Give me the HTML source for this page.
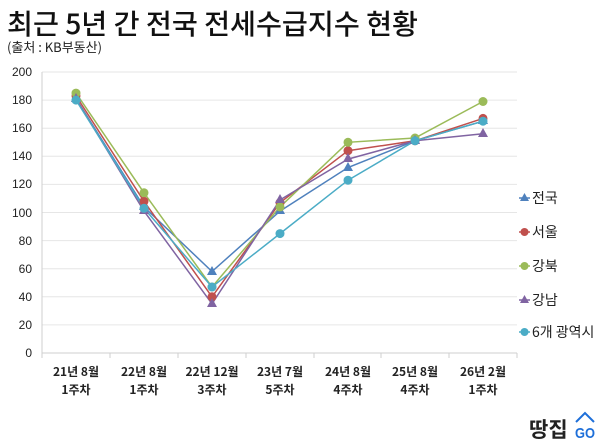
<!DOCTYPE html>
<html><head><meta charset="utf-8"><style>
html,body{margin:0;padding:0;background:#fff;}
svg{display:block;font-family:"Liberation Sans","Noto Sans CJK KR",sans-serif;}
</style></head><body>
<svg width="600" height="445" viewBox="0 0 600 445" xmlns="http://www.w3.org/2000/svg">
<rect width="600" height="445" fill="#fff"/>
<text x="7" y="34" font-size="28" font-weight="500" fill="#111" font-family="'Noto Sans CJK KR',sans-serif" textLength="411" lengthAdjust="spacingAndGlyphs">최근 5년 간 전국 전세수급지수 현황</text>
<text x="7" y="52" font-size="13" fill="#222" font-family="'Noto Sans CJK KR',sans-serif">(출처 : KB부동산)</text>
<g stroke="#e6e6e6" stroke-width="1">
<line x1="42" x2="517" y1="72" y2="72"/><line x1="42" x2="517" y1="100.1" y2="100.1"/><line x1="42" x2="517" y1="128.2" y2="128.2"/><line x1="42" x2="517" y1="156.3" y2="156.3"/><line x1="42" x2="517" y1="184.4" y2="184.4"/><line x1="42" x2="517" y1="212.5" y2="212.5"/><line x1="42" x2="517" y1="240.6" y2="240.6"/><line x1="42" x2="517" y1="268.7" y2="268.7"/><line x1="42" x2="517" y1="296.8" y2="296.8"/><line x1="42" x2="517" y1="324.9" y2="324.9"/>
</g>
<g stroke="#cfcfcf" stroke-width="1">
<line x1="42" x2="42" y1="72" y2="353"/><line x1="42" x2="517" y1="353" y2="353"/>
<line x1="42" x2="42" y1="353" y2="358"/><line x1="110" x2="110" y1="353" y2="358"/><line x1="178" x2="178" y1="353" y2="358"/><line x1="246" x2="246" y1="353" y2="358"/><line x1="314" x2="314" y1="353" y2="358"/><line x1="381" x2="381" y1="353" y2="358"/><line x1="449" x2="449" y1="353" y2="358"/><line x1="517" x2="517" y1="353" y2="358"/>
</g>
<g font-size="12" fill="#222" text-anchor="end">
<text x="32" y="76">200</text><text x="32" y="104">180</text><text x="32" y="132">160</text><text x="32" y="160">140</text><text x="32" y="188">120</text><text x="32" y="217">100</text><text x="32" y="245">80</text><text x="32" y="273">60</text><text x="32" y="301">40</text><text x="32" y="329">20</text><text x="32" y="357">0</text>
</g>
<g font-size="12" font-weight="bold" fill="#222" text-anchor="middle" font-family="'Noto Sans CJK KR',sans-serif">
<text x="76" y="376">21년 8월</text><text x="76" y="394">1주차</text>
<text x="144" y="376">22년 8월</text><text x="144" y="394">1주차</text>
<text x="212" y="376">22년 12월</text><text x="212" y="394">3주차</text>
<text x="280" y="376">23년 7월</text><text x="280" y="394">5주차</text>
<text x="348" y="376">24년 8월</text><text x="348" y="394">4주차</text>
<text x="415" y="376">25년 8월</text><text x="415" y="394">4주차</text>
<text x="483" y="376">26년 2월</text><text x="483" y="394">1주차</text>
</g>
<g fill="none" stroke-width="1.5">
<polyline stroke="#4f81bd" points="76,98.7 144,206.9 212,271.5 280,211.1 348,167.5 415,140.8 483,121.2"/>
<polyline stroke="#c0504d" points="76,95.9 144,201.3 212,296.8 280,202.7 348,150.7 415,140.8 483,118.4"/>
<polyline stroke="#9bbb59" points="76,93.1 144,192.8 212,287 280,206.9 348,142.3 415,138 483,101.5"/>
<polyline stroke="#8064a2" points="76,98.7 144,211.1 212,303.8 280,199.9 348,159.1 415,140.8 483,133.8"/>
<polyline stroke="#4bacc6" points="76,100.1 144,208.3 212,287 280,233.6 348,180.2 415,140.8 483,121.2"/>
</g>
<g fill="#4f81bd">
<polygon points="76,93 81,102 71,102"/><polygon points="144,201 149,210 139,210"/><polygon points="212,266 217,275 207,275"/><polygon points="280,205 285,214 275,214"/><polygon points="348,162 353,171 343,171"/><polygon points="415,135 420,144 410,144"/><polygon points="483,115 488,124 478,124"/>
</g>
<g fill="#c0504d">
<circle cx="76" cy="95.9" r="4.5"/><circle cx="144" cy="201.3" r="4.5"/><circle cx="212" cy="296.8" r="4.5"/><circle cx="280" cy="202.7" r="4.5"/><circle cx="348" cy="150.7" r="4.5"/><circle cx="415" cy="140.8" r="4.5"/><circle cx="483" cy="118.4" r="4.5"/>
</g>
<g fill="#9bbb59">
<circle cx="76" cy="93.1" r="4.5"/><circle cx="144" cy="192.8" r="4.5"/><circle cx="212" cy="287" r="4.5"/><circle cx="280" cy="206.9" r="4.5"/><circle cx="348" cy="142.3" r="4.5"/><circle cx="415" cy="138" r="4.5"/><circle cx="483" cy="101.5" r="4.5"/>
</g>
<g fill="#8064a2">
<polygon points="76,93 81,102 71,102"/><polygon points="144,205 149,214 139,214"/><polygon points="212,298 217,307 207,307"/><polygon points="280,194 285,203 275,203"/><polygon points="348,153 353,162 343,162"/><polygon points="415,135 420,144 410,144"/><polygon points="483,128 488,137 478,137"/>
</g>
<g fill="#4bacc6">
<circle cx="76" cy="100.1" r="4.5"/><circle cx="144" cy="208.3" r="4.5"/><circle cx="212" cy="287" r="4.5"/><circle cx="280" cy="233.6" r="4.5"/><circle cx="348" cy="180.2" r="4.5"/><circle cx="415" cy="140.8" r="4.5"/><circle cx="483" cy="121.2" r="4.5"/>
</g>
<g stroke-width="1.5">
<line x1="519" x2="530" y1="198" y2="198" stroke="#4f81bd"/><polygon points="524.5,193 529,201 520,201" fill="#4f81bd"/>
<line x1="519" x2="530" y1="232" y2="232" stroke="#c0504d"/><circle cx="524.5" cy="232" r="4" fill="#c0504d"/>
<line x1="519" x2="530" y1="266" y2="266" stroke="#9bbb59"/><circle cx="524.5" cy="266" r="4" fill="#9bbb59"/>
<line x1="519" x2="530" y1="300" y2="300" stroke="#8064a2"/><polygon points="524.5,295 529,303 520,303" fill="#8064a2"/>
<line x1="519" x2="530" y1="332" y2="332" stroke="#4bacc6"/><circle cx="524.5" cy="332" r="4" fill="#4bacc6"/>
</g>
<g font-size="14" fill="#222" font-family="'Noto Sans CJK KR',sans-serif">
<text x="532" y="203">전국</text><text x="532" y="237">서울</text><text x="532" y="271">강북</text><text x="532" y="305">강남</text><text x="532" y="337">6개 광역시</text>
</g>
<text x="529" y="437" font-size="21" font-weight="bold" fill="#222" font-family="'Noto Sans CJK KR',sans-serif">땅집</text>
<polyline points="576,422 585,413 594,422" fill="none" stroke="#1e6fd9" stroke-width="2"/>
<text x="575" y="438" font-size="15" font-weight="bold" fill="#1e6fd9" textLength="20" lengthAdjust="spacingAndGlyphs">GO</text>
</svg>
</body></html>
